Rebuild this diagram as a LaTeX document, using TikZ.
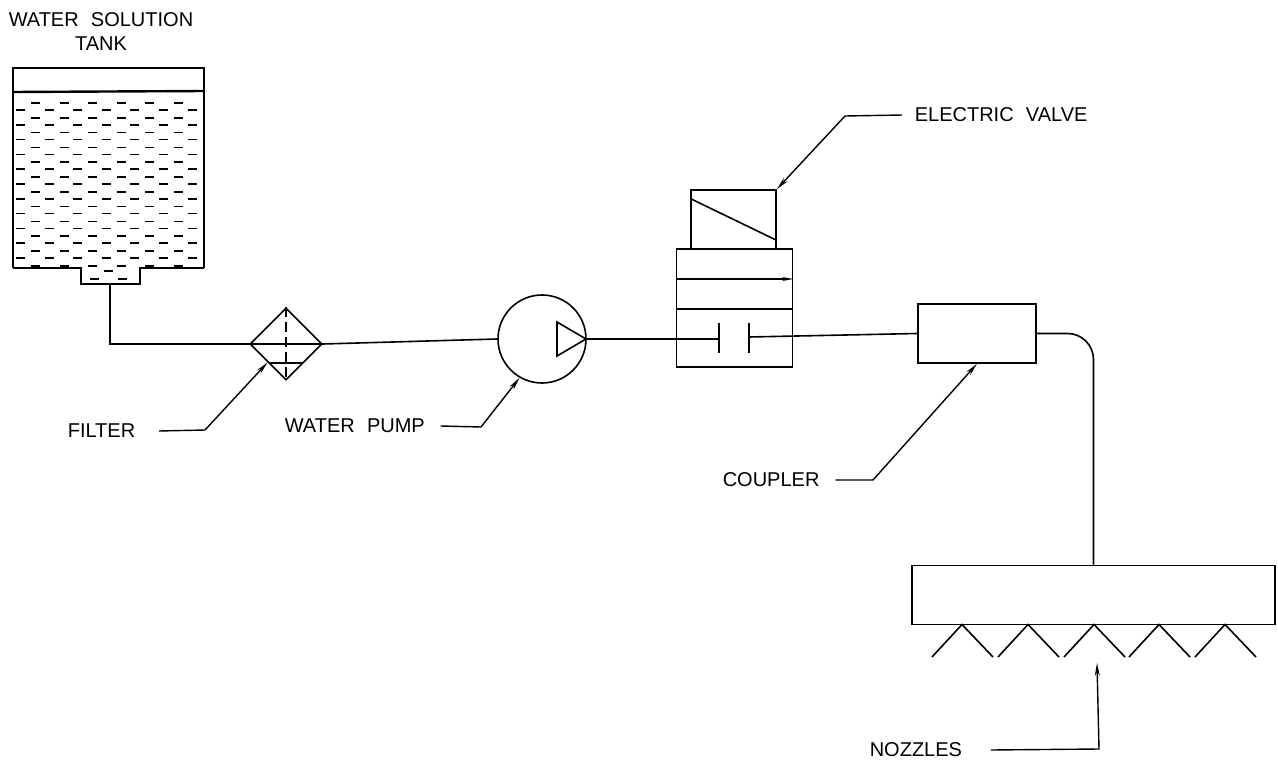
\documentclass[tikz,border=0pt]{standalone}
\usepackage{fontspec}
\setmainfont[WordSpace=2.2]{Liberation Sans}
\usetikzlibrary{arrows.meta,shapes.geometric}
\begin{document}
\begin{tikzpicture}[x=1pt,y=-1pt,line width=1.6pt,
        part/.style={draw,rectangle,inner sep=0pt},
        label/.style={inner sep=0pt,font=\fontsize{20}{24}\selectfont},
        leader/.style={line width=1.4pt,-{Stealth[length=13pt,width=5pt]}}]
                \useasboundingbox[fill=white] (0,0) rectangle (1278,765);
                %% tank
                \node[label,align=center] (tanklabel) at (101,32) {WATER SOLUTION\\TANK};
                \draw (13,268) -- (13,68) -- (204,68) -- (204,268);
                \draw[line width=2.4pt] (13,92) -- (204,91);
                \draw (13,268) -- (81,268) -- (81,284) -- (140,284) -- (140,268) -- (204,268);
                \coordinate (tankout) at (110,284);
                \foreach \i in {0,...,6}
                    \foreach \j in {0,...,10}
                        \draw (20+28.6*\i-4,110+14.8*\j) -- ++(9,0);
                \foreach \i in {0,...,5}
                    \foreach \j in {0,...,11}
                        \draw (35+28.6*\i-4,103+14.8*\j) -- ++(9,0);
                \draw (90,279) -- ++(9,0);
                \draw (118,279) -- ++(9,0);
                \draw (104,271) -- ++(9,0);
                %% filter
                \node[draw,diamond,inner sep=0pt,minimum width=72pt,minimum height=72pt] (filter) at (286,344) {};
                \draw (filter.west) -- (filter.east);
                \draw ([yshift=-19]filter.center) +(-17,0) -- +(17,0);
                \draw[dash pattern=on 10pt off 5pt] (filter.north) -- (filter.south);
                %% pump
                \node[draw,circle,inner sep=0pt,minimum size=88pt] (pump) at (542,339) {};
                \draw (557,322) -- (586,339) -- (557,356) -- cycle;
                %% valve
                \node[part,minimum width=85pt,minimum height=59pt] (solenoid) at (733.5,219.5) {};
                \draw (solenoid.west) ++(0,-21) -- (776,240);
                \node[part,minimum width=116pt,minimum height=118pt] (valve) at (734.5,308) {};
                \draw[-{Stealth[length=11pt,width=4pt]}] (valve.west |- 0,279) -- (valve.east |- 0,279);
                \draw (valve.west |- 0,309) -- (valve.east |- 0,309);
                \coordinate (plateleft) at (719,339);
                \coordinate (plateright) at (749,337);
                \draw (719,323) -- (719,353);
                \draw (749,323) -- (749,353);
                %% coupler
                \node[part,minimum width=118pt,minimum height=59pt] (coupler) at (977,333.5) {};
                %% nozzles
                \node[part,minimum width=363pt,minimum height=59pt] (bar) at (1093.5,595) {};
                \foreach \x in {962,1028,1094,1159,1225}
                    \draw (\x-30,657) -- (\x,624.5) -- (\x+31,657);
                %% pipes
                \draw (tankout) |- (filter.west);
                \draw (filter.east) -- (pump.west);
                \draw (pump.east) -- (plateleft);
                \draw (plateright) -- (coupler.west);
                \draw[rounded corners=26pt] (coupler.east) -| (bar.north);
                %% labels
                \node[label,anchor=west] (filterlabel) at (67,431) {FILTER};
                \coordinate (filterknee) at (205,430);
                \draw[leader] ([xshift=23]filterlabel.east) -- (filterknee) -- (filter.south west);
                \node[label,anchor=west] (pumplabel) at (284,426) {WATER PUMP};
                \coordinate (pumpknee) at (481,427);
                \draw[leader] ([xshift=15]pumplabel.east) -- (pumpknee) -- (pump.240);
                \node[label,anchor=west] (valvelabel) at (914,115) {ELECTRIC VALVE};
                \coordinate (valveknee) at (845,116);
                \draw[leader] ([xshift=-12]valvelabel.west) -- (valveknee) -- (solenoid.north east);
                \node[label,anchor=west] (couplerlabel) at (722,480) {COUPLER};
                \coordinate (couplerknee) at (873,480);
                \draw[leader] ([xshift=15]couplerlabel.east) -- (couplerknee) -- (coupler.south);
                \node[label,anchor=west] (nozzlelabel) at (869,750) {NOZZLES};
                \coordinate (nozzleknee) at (1099,749);
                \coordinate (nozzletip) at (1097,663);
                \draw[leader] ([xshift=28]nozzlelabel.east) -- (nozzleknee) -- (nozzletip);
\end{tikzpicture}
\end{document}
